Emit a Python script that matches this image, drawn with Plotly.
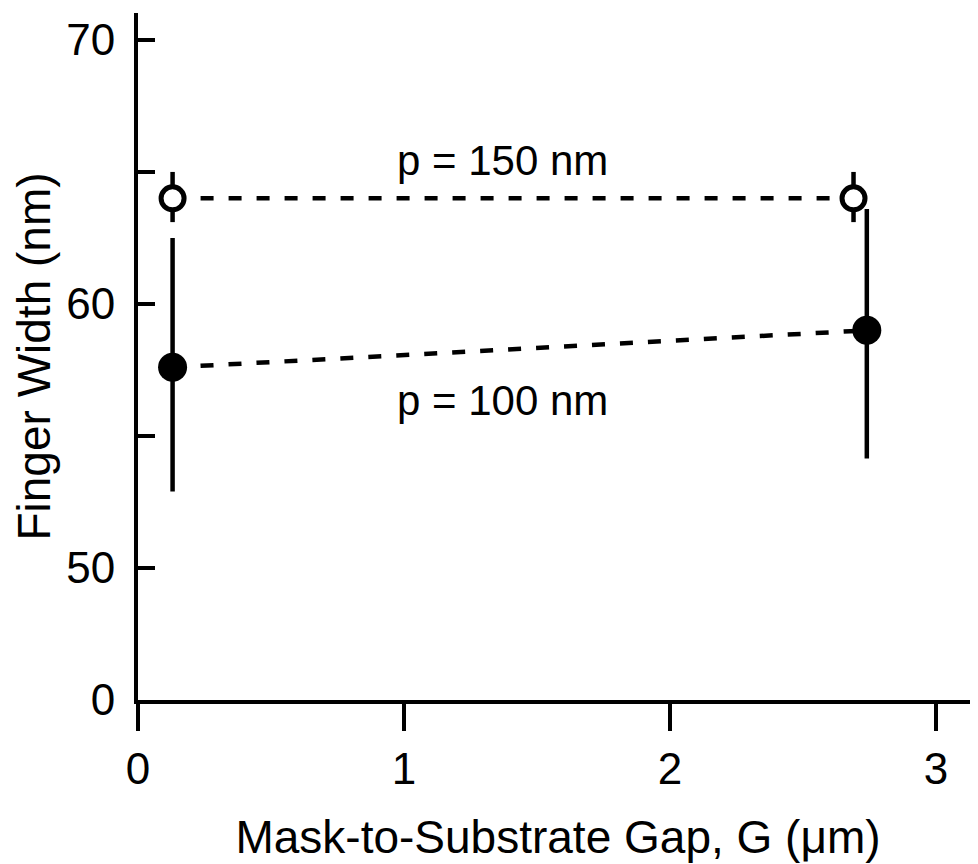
import plotly.graph_objects as go

# Data
gap_150 = [0.13, 2.69]
width_150 = [64.0, 64.0]
err150_plus = [1.0, 1.0]
err150_minus = [0.9, 0.9]

gap_100 = [0.13, 2.74]
width_100 = [57.6, 59.0]
err100_plus = [4.9, 4.6]
err100_minus = [4.7, 4.85]

# Broken y axis: the "0" label sits at position 45
ytick_vals = [45, 50, 55, 60, 65, 70]
ytick_text = ["0", "50", "", "60", "", "70"]
xtick_vals = [0, 1, 2, 3]
xtick_text = ["0", "1", "2", "3"]

FONT = "Liberation Sans, Arial, Helvetica, sans-serif"
TICK_FS = 44
TITLE_FS = 46
ANN_FS = 42

fig = go.Figure()

fig.add_trace(go.Scatter(
    x=gap_100, y=width_100, mode="lines+markers",
    line=dict(color="black", width=4.5, dash="13px,15px"),
    marker=dict(size=29, color="black", line=dict(width=0)),
    error_y=dict(type="data", symmetric=False, array=err100_plus,
                 arrayminus=err100_minus, width=0, thickness=4.5, color="black"),
    showlegend=False, cliponaxis=False,
))

fig.add_trace(go.Scatter(
    x=gap_150, y=width_150, mode="lines+markers",
    line=dict(color="black", width=4.5, dash="13px,15px"),
    marker=dict(size=23, color="white", line=dict(width=5, color="black")),
    error_y=dict(type="data", symmetric=False, array=err150_plus,
                 arrayminus=err150_minus, width=0, thickness=4.5, color="black"),
    showlegend=False, cliponaxis=False,
))

fig.add_annotation(x=1.37, y=65.45, text="p = 150 nm", showarrow=False,
                   font=dict(family=FONT, size=ANN_FS, color="black"))
fig.add_annotation(x=1.37, y=56.36, text="p = 100 nm", showarrow=False,
                   font=dict(family=FONT, size=ANN_FS, color="black"))

# extension of the y axis line below the x axis
fig.add_shape(type="line", xref="paper", yref="paper", x0=0, x1=0, y0=-0.03, y1=0,
              line=dict(color="black", width=4))

fig.update_layout(
    width=970, height=856,
    margin=dict(l=130, r=0, t=5, b=164),
    paper_bgcolor="white", plot_bgcolor="white",
    font=dict(family=FONT, size=TICK_FS, color="black"),
)

fig.update_xaxes(
    range=[0, 3.158], showgrid=False, zeroline=False,
    showline=True, linecolor="black", linewidth=4,
    ticks="outside", ticklen=27, tickwidth=4, tickcolor="black",
    tickvals=xtick_vals, ticktext=xtick_text,
    tickfont=dict(family=FONT, size=TICK_FS, color="black"),
    title=dict(text="Mask-to-Substrate Gap, G (μm)",
               font=dict(family=FONT, size=TITLE_FS, color="black"), standoff=30),
)
fig.update_yaxes(
    range=[45, 71.02], showgrid=False, zeroline=False,
    showline=True, linecolor="black", linewidth=4,
    ticks="inside", ticklen=17, tickwidth=4, tickcolor="black",
    tickvals=ytick_vals, ticktext=ytick_text, ticklabelstandoff=10,
    tickfont=dict(family=FONT, size=TICK_FS, color="black"),
    title=dict(text="Finger Width (nm)",
               font=dict(family=FONT, size=TITLE_FS, color="black"), standoff=4),
)

fig.write_html("out.html")
